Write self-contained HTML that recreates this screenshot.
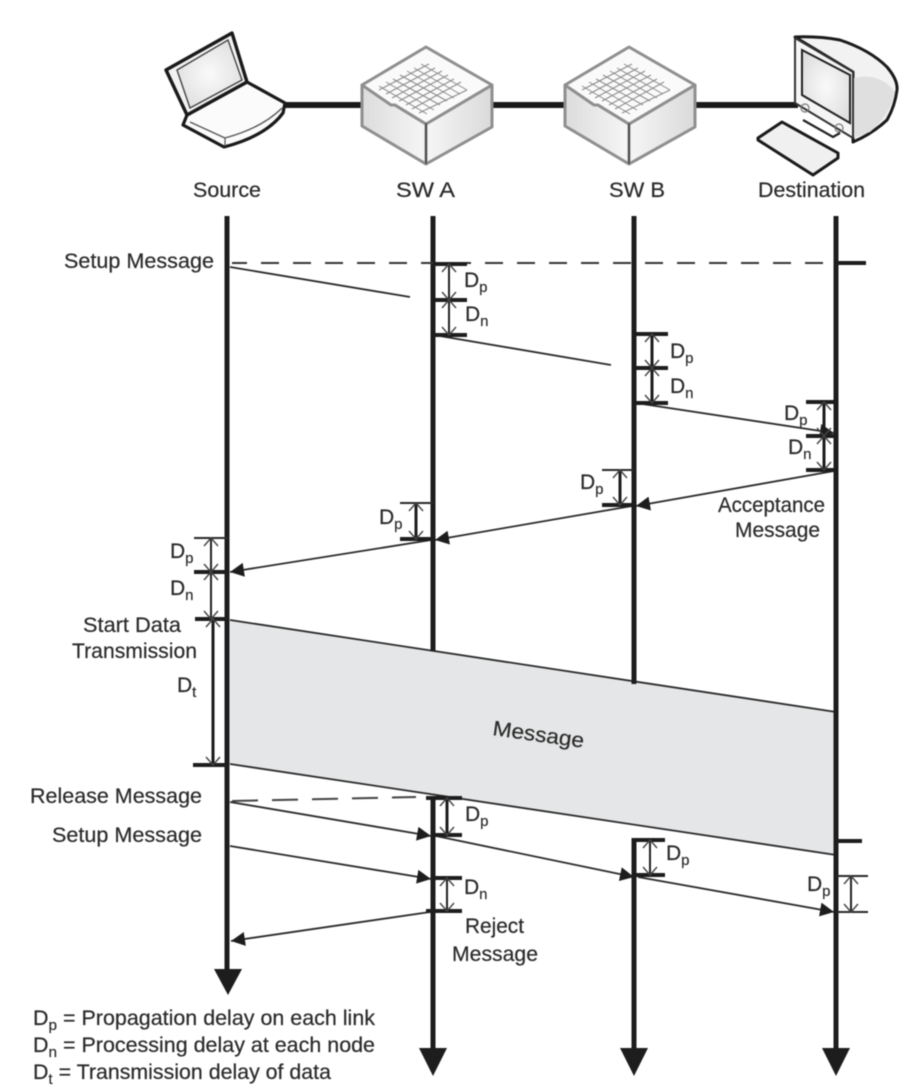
<!DOCTYPE html>
<html><head><meta charset="utf-8">
<style>
html,body{margin:0;padding:0;background:#fff;width:920px;height:1092px;overflow:hidden}
svg{display:block;filter:blur(.6px)}
text{font-family:"Liberation Sans",sans-serif;font-size:21px;fill:#2a2a2a;stroke:#2a2a2a;stroke-width:.2}
.sub{font-size:15px}
.tl{stroke:#1d1d1d;stroke-width:5;fill:none}
.tk{stroke:#1d1d1d;stroke-width:4;fill:none}
.tn{stroke:#2a2a2a;stroke-width:2;fill:none}
.m{stroke:#2a2a2a;stroke-width:1.8;fill:none}
.a{stroke:#2a2a2a;stroke-width:1.8;fill:none;marker-end:url(#fa)}
.d{stroke:#222;stroke-width:2;fill:none;marker-start:url(#oa);marker-end:url(#oa)}
.db{stroke:#1d1d1d;stroke-width:3;fill:none;marker-start:url(#oa);marker-end:url(#oa)}
.g{stroke:#8a8a8a;stroke-width:1;fill:none}
</style></head><body>
<svg width="920" height="1092" viewBox="0 0 920 1092" xmlns="http://www.w3.org/2000/svg">
<defs>
<marker id="fa" markerUnits="userSpaceOnUse" markerWidth="16" markerHeight="16" refX="14" refY="7" orient="auto"><path d="M0 0L14 7L0 14Z" fill="#1d1d1d"/></marker>
<marker id="oa" markerUnits="userSpaceOnUse" markerWidth="20" markerHeight="20" refX="10" refY="10" orient="auto-start-reverse"><path d="M2 3L10 10L2 17" fill="none" stroke="#444" stroke-width="1.4"/></marker>
<linearGradient id="gl" x1="0" x2="1" y1="0" y2="0"><stop offset="0" stop-color="#dcdcdc"/><stop offset="1" stop-color="#f6f6f6"/></linearGradient>
<linearGradient id="gr" x1="0" x2="1" y1="0" y2="0"><stop offset="0" stop-color="#f6f6f6"/><stop offset="1" stop-color="#dadada"/></linearGradient>
<radialGradient id="sc" cx=".5" cy=".5" r=".6"><stop offset="0" stop-color="#fafafa"/><stop offset="1" stop-color="#dedede"/></radialGradient>
<g id="sw">
 <path d="M-64 -38L0 1V41L-64 3Z" fill="url(#gl)" stroke="#8f8f8f" stroke-width="3" stroke-linejoin="round"/>
 <path d="M66 -38L0 1V41L66 4Z" fill="url(#gr)" stroke="#8f8f8f" stroke-width="3" stroke-linejoin="round"/>
 <path d="M0 -76L66 -38L0 1L-31 -18L-35 -18L-64 -38Z" fill="#fafafa" stroke="#8f8f8f" stroke-width="3" stroke-linejoin="round"/>
 <path d="M0 0V41" stroke="#333" stroke-width="1.2"/>
 <path class="g" d="M-47 -33L3 -59M-40 -29L9 -55M-34 -25L16 -52M-27 -22L22 -48M-20 -18L28 -44M-14 -14L35 -41M-7 -10L41 -33"/>
 <path class="g" d="M-47 -37L1 -9M-40 -41L8 -13M-33 -44L14 -18M-26 -48L21 -22M-19 -52L28 -25M-12 -55L34 -29M-5 -59L41 -33"/>
</g>
</defs>

<!-- links -->
<path d="M283 105H362M490 105H564M695 105H798" stroke="#1a1a1a" stroke-width="6" fill="none"/>

<!-- laptop -->
<path d="M247 82L285 103L283 113Q266 136 224 147L183 125L187 115Z" fill="#fbfbfb" stroke="#1a1a1a" stroke-width="3.2" stroke-linejoin="round"/>
<path d="M190 122L225 138Q262 128 282 108" fill="none" stroke="#555" stroke-width="1.3"/>
<path d="M225 138V146" stroke="#555" stroke-width="1.2"/>
<path d="M166 70L232 33L247 82L187 115Z" fill="#f2f2f2" stroke="#1a1a1a" stroke-width="3.4" stroke-linejoin="round"/>
<path d="M177 70L228 40L242 80L190 108Z" fill="url(#sc)" stroke="#444" stroke-width="1.4"/>

<!-- switches -->
<use href="#sw" x="426" y="123"/>
<use href="#sw" x="629" y="123"/>

<!-- monitor -->
<path d="M795 37Q818 36 840 40Q870 50 887 67Q898 80 897 90Q895 106 887 120Q872 134 853 142L853 72Z" fill="#f2f2f2" stroke="#1a1a1a" stroke-width="3" stroke-linejoin="round"/>
<path d="M853 78Q880 72 895 92Q890 115 870 132L853 138Z" fill="#dfdfdf"/>
<path d="M795 38L853 72V138L795 103Z" fill="#f5f5f5" stroke="#333" stroke-width="2" stroke-linejoin="round"/>
<path d="M802 50L850 75V123L802 95Z" fill="url(#sc)" stroke="#222" stroke-width="2"/>
<circle cx="805" cy="108" r="4" fill="none" stroke="#777" stroke-width="1.2"/>
<circle cx="839" cy="128" r="4" fill="none" stroke="#777" stroke-width="1.2"/>
<path d="M803 120L833 137L840 133" fill="none" stroke="#222" stroke-width="2.2"/>
<path d="M782 122L838 153L838 158L813 175L758 140V138Z" fill="#f0f0f0" stroke="#1a1a1a" stroke-width="3" stroke-linejoin="round"/>

<!-- node labels -->
<text x="193" y="197" textLength="68" lengthAdjust="spacingAndGlyphs">Source</text>
<text x="396" y="197" textLength="59" lengthAdjust="spacingAndGlyphs">SW A</text>
<text x="609" y="197" textLength="56" lengthAdjust="spacingAndGlyphs">SW B</text>
<text x="758" y="197" textLength="107" lengthAdjust="spacingAndGlyphs">Destination</text>

<!-- message block -->
<polygon points="230,620 836,712 836,855 230,764" fill="#e5e6e7"/>
<path class="m" d="M230 620L836 712M230 764L836 855" stroke-width="2"/>
<text transform="translate(492,735) rotate(8)" textLength="92" lengthAdjust="spacingAndGlyphs">Message</text>

<!-- timelines -->
<path class="tl" d="M227 216V972"/>
<path class="tl" d="M433 216V651M433 797V1052"/>
<path class="tl" d="M634 216V684M634 838V1052"/>
<path class="tl" d="M836 216V1052"/>
<path d="M214 969H242L228 995Z" fill="#1d1d1d"/>
<path d="M419 1048H447L433 1076Z" fill="#1d1d1d"/>
<path d="M620 1048H648L634 1076Z" fill="#1d1d1d"/>
<path d="M822 1048H850L836 1076Z" fill="#1d1d1d"/>

<!-- setup dashed -->
<path d="M232 263H834" stroke="#333" stroke-width="2" stroke-dasharray="18 14" stroke-dashoffset="3" fill="none"/>
<path class="tk" d="M838 263H866"/>
<text x="64" y="268" textLength="150" lengthAdjust="spacingAndGlyphs">Setup Message</text>

<!-- messages -->
<path class="m" d="M230 267L410 297"/>
<path class="m" d="M434 335L611 365"/>
<path class="a" d="M636 403L834 433"/>
<path class="a" d="M834 471L636 506"/>
<path class="a" d="M632 506L435 540"/>
<path class="a" d="M431 540L230 572"/>

<!-- dims SW A upper -->
<path class="tk" d="M433 264H467M433 300H467M433 335H467"/>
<path class="d" d="M449 264V300"/><path class="d" d="M449 300V335"/>
<text x="464" y="287">D<tspan class="sub" dy="5">p</tspan></text>
<text x="465" y="321">D<tspan class="sub" dy="5">n</tspan></text>

<!-- dims SW B upper -->
<path class="tk" d="M634 334H668M634 368H668M634 403H668"/>
<path class="db" d="M652 334V368"/><path class="db" d="M652 368V403"/>
<text x="670" y="358">D<tspan class="sub" dy="5">p</tspan></text>
<text x="670" y="393">D<tspan class="sub" dy="5">n</tspan></text>

<!-- dims Dest -->
<path class="tk" d="M806 402H836M806 436H836M806 470H836"/>
<path class="db" d="M824 402V436"/><path class="db" d="M824 436V470"/>
<text x="784" y="420">D<tspan class="sub" dy="5">p</tspan></text>
<text x="788" y="454">D<tspan class="sub" dy="5">n</tspan></text>

<!-- acceptance dims -->
<path class="tn" d="M602 470H634"/><path class="tk" d="M602 505H634"/>
<path class="db" d="M620 470V505"/>
<text x="580" y="489">D<tspan class="sub" dy="5">p</tspan></text>
<path class="tn" d="M400 503H433"/><path class="tk" d="M400 539H433"/>
<path class="db" d="M416 503V539"/>
<text x="379" y="524">D<tspan class="sub" dy="5">p</tspan></text>
<text x="718" y="512" textLength="107" lengthAdjust="spacingAndGlyphs">Acceptance</text>
<text x="735" y="537" textLength="85" lengthAdjust="spacingAndGlyphs">Message</text>

<!-- source dims -->
<path class="tn" d="M194 538H228"/>
<path class="tk" d="M194 572H228M195 619H228M193 765H228"/>
<path class="d" d="M211 538V572"/><path class="d" d="M211 572V619"/>
<path class="db" d="M213 619V765"/>
<text x="170" y="558">D<tspan class="sub" dy="5">p</tspan></text>
<text x="170" y="595">D<tspan class="sub" dy="5">n</tspan></text>
<text x="83" y="632" textLength="98" lengthAdjust="spacingAndGlyphs">Start Data</text>
<text x="72" y="658" textLength="125" lengthAdjust="spacingAndGlyphs">Transmission</text>
<text x="177" y="692">D<tspan class="sub" dy="5">t</tspan></text>

<!-- lower -->
<text x="30" y="803" textLength="172" lengthAdjust="spacingAndGlyphs">Release Message</text>
<text x="52" y="842" textLength="150" lengthAdjust="spacingAndGlyphs">Setup Message</text>
<path d="M232 801L416 797" stroke="#444" stroke-width="2" stroke-dasharray="26 14" fill="none"/>
<path class="a" d="M230 802L431 836"/>
<path class="a" d="M436 836L634 877"/>
<path class="a" d="M638 877L834 912"/>
<path class="a" d="M230 846L431 879"/>
<path class="a" d="M430 912L231 941"/>

<path class="tk" d="M426 798H462M433 835H462"/>
<path class="db" d="M447 798V835"/>
<text x="465" y="821">D<tspan class="sub" dy="5">p</tspan></text>
<path class="tk" d="M433 878H462M426 911H462"/>
<path class="d" d="M447 878V911"/>
<text x="464" y="894">D<tspan class="sub" dy="5">n</tspan></text>
<text x="465" y="933" textLength="59" lengthAdjust="spacingAndGlyphs">Reject</text>
<text x="452" y="961" textLength="86" lengthAdjust="spacingAndGlyphs">Message</text>

<path class="tk" d="M634 840H665M634 875H665"/>
<path class="d" d="M650 840V875"/>
<text x="666" y="860">D<tspan class="sub" dy="5">p</tspan></text>

<path class="tk" d="M834 841H862"/>
<path class="tn" d="M836 876H868M836 912H868"/>
<path class="d" d="M851 876V912"/>
<text x="807" y="891">D<tspan class="sub" dy="5">p</tspan></text>

<!-- legend -->
<text x="33" y="1025" textLength="342" lengthAdjust="spacingAndGlyphs">D<tspan class="sub" dy="5">p</tspan><tspan dy="-5"> = Propagation delay on each link</tspan></text>
<text x="33" y="1052" textLength="342" lengthAdjust="spacingAndGlyphs">D<tspan class="sub" dy="5">n</tspan><tspan dy="-5"> = Processing delay at each node</tspan></text>
<text x="33" y="1079" textLength="298" lengthAdjust="spacingAndGlyphs">D<tspan class="sub" dy="5">t</tspan><tspan dy="-5"> = Transmission delay of data</tspan></text>
</svg>
</body></html>
